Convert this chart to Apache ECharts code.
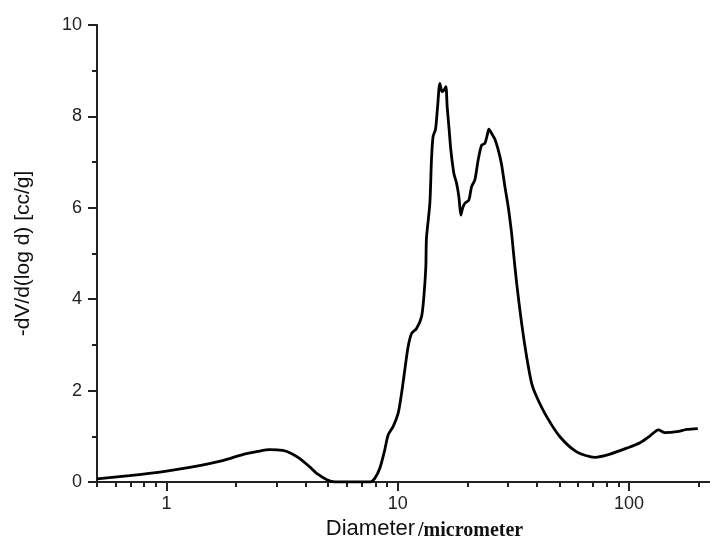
<!DOCTYPE html>
<html>
<head>
<meta charset="utf-8">
<script src="https://cdn.jsdelivr.net/npm/echarts@6/dist/echarts.min.js"></script>
<style>html,body{margin:0;padding:0;background:#fff}#c{width:710px;height:548px}</style>
</head>
<body>
<div id="c"></div>
<script>
// Diameter (micrometer)
const diameter = [0.5, 0.69, 1.0, 1.258, 1.747, 2.13, 2.48, 2.79, 3.18, 3.48, 3.77, 4.16, 4.51, 4.93, 5.34, 7.6,
  7.95, 8.36, 8.78, 9.08, 9.54, 10.03, 10.38, 10.72, 11.08, 11.47, 12.05, 12.67, 12.96, 13.22, 13.3, 13.76, 13.99,
  14.21, 14.56, 14.86, 15.2, 15.55, 15.86, 16.14, 16.35, 16.68, 16.96, 17.48, 17.95, 18.37, 18.74, 19.06, 19.5,
  20.29, 20.84, 21.54, 22.27, 23.03, 23.8, 24.36, 24.77, 25.44, 26.3, 27.2, 28.1, 29.06, 30.03, 31.06, 31.56,
  32.66, 34.32, 36.07, 37.92, 39.8, 44.03, 50.26, 59.37, 71.26, 82.8, 97.7, 111.6, 123.3, 134, 143.2, 160.9, 177.8, 198.4];
// -dV/d(log d) [cc/g]
const dvdlogd = [0.07, 0.14, 0.24, 0.32, 0.47, 0.60, 0.67, 0.71, 0.69, 0.62, 0.51, 0.33, 0.17, 0.05, 0.0, 0.0,
  0.08, 0.30, 0.70, 1.03, 1.21, 1.50, 1.94, 2.45, 2.96, 3.25, 3.36, 3.62, 4.05, 4.71, 5.33, 6.10, 7.08,
  7.56, 7.72, 8.21, 8.72, 8.54, 8.58, 8.65, 8.21, 7.70, 7.26, 6.75, 6.54, 6.24, 5.84, 5.99, 6.10,
  6.17, 6.46, 6.61, 7.05, 7.37, 7.41, 7.59, 7.72, 7.63, 7.50, 7.26, 6.95, 6.46, 6.02, 5.44, 5.08,
  4.35, 3.47, 2.74, 2.16, 1.87, 1.43, 0.99, 0.66, 0.54, 0.61, 0.74, 0.86, 1.01, 1.14, 1.08, 1.10, 1.15, 1.17];

const xMajorTicks = [1, 10, 100];
const xMinorTicks = [0.5, 0.6, 0.7, 0.8, 0.9, 2, 3, 4, 5, 6, 7, 8, 9, 20, 30, 40, 50, 60, 70, 80, 90, 200];
const xMin = 0.5, xMax = 224;
const yMin = 0, yMax = 10, yStep = 2;

const axisColor = '#222';
const font = "'Liberation Sans', Arial, sans-serif";

const chart = echarts.init(document.getElementById('c'), null, {renderer: 'canvas'});
chart.setOption({
  animation: false,
  backgroundColor: '#fff',
  grid: {left: 97, right: 0, top: 25, bottom: 66, containLabel: false, outerBoundsMode: 'none'},
  xAxis: [
    {
      type: 'log', logBase: 10, min: xMin, max: xMax, position: 'bottom',
      axisLine: {show: true, lineStyle: {color: axisColor, width: 2}},
      axisTick: {show: true, length: 5, lineStyle: {color: axisColor, width: 2}, customValues: xMinorTicks},
      axisLabel: {show: false},
      splitLine: {show: false},
      name: '{a|Diameter}{b|/micrometer}',
      nameLocation: 'middle',
      nameGap: 35,
      nameTextStyle: {
        padding: [0, 0, 0, 42],
        rich: {
          a: {fontFamily: font, fontSize: 22, color: '#111'},
          b: {fontFamily: "'Liberation Serif', 'Times New Roman', serif", fontWeight: 'bold', fontSize: 20, color: '#111', padding: [4, 0, 0, 3]}
        }
      }
    },
    {
      type: 'log', logBase: 10, min: xMin, max: xMax, position: 'bottom',
      axisLine: {show: false},
      axisTick: {show: true, length: 9, lineStyle: {color: axisColor, width: 2}, customValues: xMajorTicks},
      axisLabel: {show: true, customValues: xMajorTicks, margin: 13, fontFamily: font, fontSize: 18, color: '#222',
        formatter: v => String(v)},
      splitLine: {show: false}
    }
  ],
  yAxis: {
    type: 'value', min: yMin, max: yMax, interval: yStep,
    axisLine: {show: true, lineStyle: {color: axisColor, width: 2}},
    axisTick: {show: true, length: 9, lineStyle: {color: axisColor, width: 2}},
    minorTick: {show: true, splitNumber: 2, length: 5, lineStyle: {color: axisColor, width: 2}},
    axisLabel: {margin: 15, fontFamily: font, fontSize: 18, color: '#222'},
    splitLine: {show: false},
    name: '-dV/d(log d) [cc/g]',
    nameLocation: 'middle',
    nameGap: 63,
    nameTextStyle: {fontFamily: font, fontSize: 21, color: '#111'}
  },
  series: [{
    type: 'line',
    xAxisIndex: 0,
    data: diameter.map((d, i) => [d, dvdlogd[i]]),
    showSymbol: false,
    smooth: 0.25,
    lineStyle: {color: '#000', width: 2.8},
    clip: true
  }]
});
</script>
</body>
</html>
